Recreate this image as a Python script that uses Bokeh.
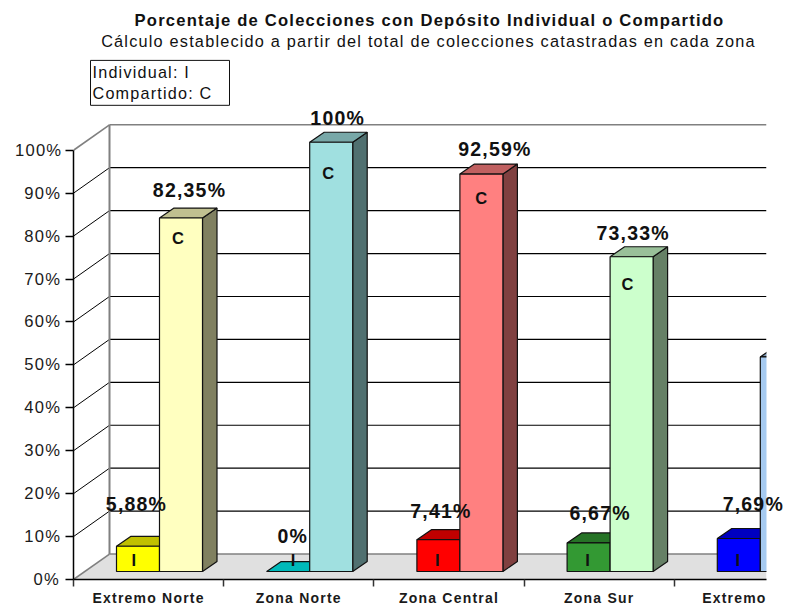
from bokeh.plotting import figure
from bokeh.models import Label, Range1d, FixedTicker
from bokeh.embed import file_html
from bokeh.resources import INLINE

categories = ["Extremo Norte", "Zona Norte", "Zona Central", "Zona Sur", "Extremo"]
individual = [5.88, 0, 7.41, 6.67, 7.69]
compartido = [82.35, 100, 92.59, 73.33, 50]
individual_labels = ["5,88%", "0%", "7,41%", "6,67%", "7,69%"]
compartido_labels = ["82,35%", "100%", "92,59%", "73,33%", None]
y_ticks = [0, 10, 20, 30, 40, 50, 60, 70, 80, 90, 100]

ind_front = ["#ffff00", "#00c0c0", "#ff0000", "#339933", "#0000ff"]
ind_top = ["#c0c000", "#00baba", "#c00000", "#267326", "#0000c0"]
ind_side = ["#808000", "#006060", "#800000", "#1a4d1a", "#000080"]
com_front = ["#ffffc0", "#a0e0e0", "#ff8080", "#ccffcc", "#a6caf0"]
com_top = ["#c0c090", "#78a8a8", "#c06060", "#99c099", "#7d98b4"]
com_side = ["#808060", "#507070", "#804040", "#668066", "#536578"]

# layout (image pixels)
SPACING = 1.2
X0, Y0, CAT, PCT = 73, 580, 150.2, 4.3
RIGHT = 766
DX, DY = 36, 25.5         # wall depth
BDX, BDY = 14.5, 10       # bar depth
START, BW, LIFT = 43, 43.0, 8
ACROSS = (RIGHT - X0) / CAT
def X(px): return (px - X0) / CAT
def Y(py): return (Y0 - py) / PCT
ddx, ddy = DX / CAT, DY / PCT
bdx, bdy = BDX / CAT, BDY / PCT
lift = LIFT / PCT

WIDTH, HEIGHT = 786, 608
p = figure(width=WIDTH, height=HEIGHT, output_backend="svg", toolbar_location=None,
           x_range=Range1d(0, X(WIDTH)), y_range=Range1d(0, Y(0)),
           min_border_left=X0, min_border_right=0,
           min_border_top=0, min_border_bottom=HEIGHT - Y0)
p.styles = {"letter-spacing": f"{SPACING}px"}
p.grid.visible = False
p.outline_line_color = None

# floor
p.patch([0, ddx, ACROSS, ACROSS], [0, ddy, ddy, 0], fill_color="#e0e0e0", line_color=None)

# back wall grid and side-wall diagonals
vals = y_ticks[1:-1]
p.segment([ddx] * len(vals), [v + ddy for v in vals], [ACROSS] * len(vals), [v + ddy for v in vals],
          line_color="#000000", line_width=1.2)
p.segment([0] * len(vals), vals, [ddx] * len(vals), [v + ddy for v in vals],
          line_color="#000000", line_width=1)
p.segment([ddx, ddx, 0, 0], [ddy, 100 + ddy, 100, 0], [ACROSS, ACROSS, ddx, ddx], [ddy, 100 + ddy, 100 + ddy, ddy],
          line_color="#808080", line_width=1.6)
p.line([ddx, ddx], [ddy, 100 + ddy], line_color="#808080", line_width=2)

# bars
def bar(x, v, front, top, side):
    w = BW / CAT
    b = lift
    t = v + lift
    p.patch([x + w, x + w + bdx, x + w + bdx, x + w], [b, b + bdy, t + bdy, t],
            fill_color=side, line_color="#111111", line_width=1.2)
    p.patch([x, x + bdx, x + w + bdx, x + w], [t, t + bdy, t + bdy, t],
            fill_color=top, line_color="#111111", line_width=1.2)
    p.quad(left=x, right=x + w, bottom=b, top=t,
           fill_color=front, line_color="#111111", line_width=1.2)

for i in range(len(categories)):
    x1 = i + START / CAT
    bar(x1, individual[i], ind_front[i], ind_top[i], ind_side[i])
    bar(x1 + BW / CAT, compartido[i], com_front[i], com_top[i], com_side[i])

# the picture's plot area stops at RIGHT
p.quad(left=ACROSS, right=X(WIDTH) + 1, bottom=-1, top=Y(0) + 1, fill_color="white", line_color=None)

# axes
ya = p.yaxis[0]
ya.bounds = (0, 100)
ya.ticker = FixedTicker(ticks=y_ticks)
ya.major_label_overrides = {v: f"{v}%" for v in y_ticks}
ya.major_tick_out = 8
ya.major_tick_in = 0
ya.minor_tick_out = 0
ya.minor_tick_in = 0
ya.axis_line_color = "#000000"
ya.axis_line_width = 1.5
ya.major_tick_line_width = 1.5
ya.major_label_text_font = "Liberation Sans"
ya.major_label_text_font_size = "16.6px"
ya.major_label_text_color = "#1a1a1a"
ya.major_label_standoff = 8

label_pos = [0.5, 1.5, 2.5, 3.5, 4.4]
label_pos = [lp - len(c) * SPACING / 2 / CAT for lp, c in zip(label_pos, categories)]
xa = p.xaxis[0]
xa.bounds = (0, ACROSS)
xa.ticker = FixedTicker(ticks=label_pos, minor_ticks=list(range(len(categories))))
xa.major_label_overrides = {pos: c for pos, c in zip(label_pos, categories)}
xa.major_tick_out = 0
xa.major_tick_in = 0
xa.minor_tick_out = 7
xa.minor_tick_in = 0
xa.axis_line_color = "#000000"
xa.axis_line_width = 1.5
xa.minor_tick_line_width = 1.5
xa.minor_tick_line_color = "#333333"
xa.major_label_text_font = "Liberation Sans"
xa.major_label_text_font_style = "bold"
xa.major_label_text_font_size = "14px"
xa.major_label_text_color = "#1a1a1a"
xa.major_label_standoff = 3

def txt(px, py, s, size, bold=False, align="center", color="#111111"):
    if align == "center":
        px -= len(s) * SPACING / 2
    p.add_layout(Label(x=X(px), y=Y(py), text=s, text_font="Liberation Sans",
                       text_font_size=size, text_font_style="bold" if bold else "normal",
                       text_align=align, text_baseline="middle", text_color=color))

# data labels
ind_lab_dx = [20, 26, 24, 33, 36]
ind_lab_dy = [42, 36, 29, 30, 35]
com_lab_dx = [30, 28, 35, 23]
com_lab_dy = [28, 24, 25, 24]
ind_let_x = [18, 27, 21, 21, 21]
com_let_dx = [19, 19, 22, 18]
com_let_dy = [20, 31, 24, 27]
for i in range(len(categories)):
    bx = X0 + i * CAT + START
    txt(bx + ind_lab_dx[i], Y0 - LIFT - individual[i] * PCT - ind_lab_dy[i], individual_labels[i], "19.5px", True)
    txt(bx + ind_let_x[i], 560, "I", "16.5px", True)
    if compartido_labels[i]:
        cx = bx + BW
        txt(cx + com_lab_dx[i], Y0 - LIFT - compartido[i] * PCT - com_lab_dy[i], compartido_labels[i], "19.5px", True)
        txt(cx + com_let_dx[i], Y0 - LIFT - compartido[i] * PCT + com_let_dy[i], "C", "16.5px", True)

# titles
txt(429, 20, "Porcentaje de Colecciones con Depósito Individual o Compartido", "16.6px", True)
txt(428, 41, "Cálculo establecido a partir del total de colecciones catastradas en cada zona", "16.3px")

# legend box
p.quad(left=X(90), right=X(229), bottom=Y(105), top=Y(60), fill_color="white", line_color="#111111", line_width=1)
txt(92, 72, "Individual: I", "16.2px", align="left")
txt(92, 93, "Compartido: C", "16.2px", align="left")

open("out.html", "w").write(file_html(p, INLINE))
